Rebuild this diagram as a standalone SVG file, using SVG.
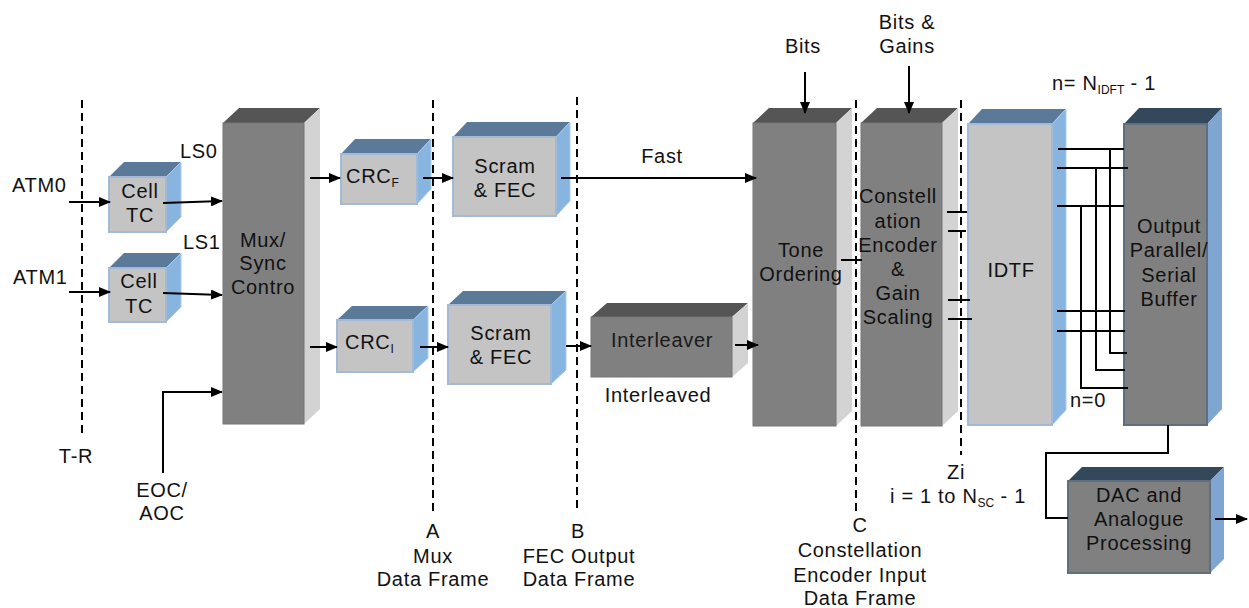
<svg xmlns="http://www.w3.org/2000/svg" width="1249" height="608" viewBox="0 0 1249 608">
<style>
text{font-family:"Liberation Sans",Arial,sans-serif;font-size:20px;fill:#111;letter-spacing:0.7px}
.c{text-anchor:middle}
.sub{font-size:12px;letter-spacing:0}
.lf{fill:#c4c4c4;stroke:#a3bad6;stroke-width:2}
.lt{fill:#5b7a9a}
.ls{fill:#88b4e0;stroke:#a9cbee;stroke-width:1}
.gf{fill:#808080;stroke:#777;stroke-width:1}
.gt{fill:#555555}
.gs{fill:#d3d3d3}
.nf{fill:#808080;stroke:#5f6f80;stroke-width:2}
.nt{fill:#34485c}
.ns{fill:#7ea6d0}
.dash{stroke:#000;stroke-width:2;stroke-dasharray:8,5;fill:none}
.ln{stroke:#000;stroke-width:2;fill:none}
.ar{stroke:#000;stroke-width:2;fill:none;marker-end:url(#ah)}
</style>
<defs>
<marker id="ah" viewBox="0 0 12 10" refX="11" refY="5" markerWidth="12" markerHeight="10" markerUnits="userSpaceOnUse" orient="auto">
<path d="M0,0 L12,5 L0,10 Z" fill="#000"/>
</marker>
<clipPath id="clipCell2"><rect x="109" y="268" width="57" height="53"/></clipPath>
</defs>

<g id="guides">
<line class="dash" x1="82" y1="100" x2="82" y2="438"/>
<line class="dash" x1="433" y1="100" x2="433" y2="513"/>
<line class="dash" x1="577" y1="97" x2="577" y2="513"/>
<line class="dash" x1="856" y1="100" x2="856" y2="512"/>
<line class="dash" x1="961" y1="100" x2="961" y2="455"/>
</g>

<g id="cell1">
<polygon class="lt" points="109,177 124,162 181,162 166,177"/>
<polygon class="ls" points="166,177 181,162 181,217 166,232"/>
<rect class="lf" x="109" y="177" width="57" height="55"/>
<text class="c" x="140" y="198">Cell</text>
<text class="c" x="140" y="222">TC</text>
</g>

<g id="cell2">
<polygon class="lt" points="109,268 124,253 181,253 166,268"/>
<polygon class="ls" points="166,268 181,253 181,307 166,322"/>
<rect class="lf" x="109" y="268" width="57" height="54"/>
<g clip-path="url(#clipCell2)">
<text class="c" x="139" y="288">Cell</text>
<text class="c" x="139" y="313">TC</text>
</g>
</g>

<g id="mux">
<polygon class="gt" points="223,123 239,108 320,108 304,123"/>
<polygon class="gs" points="304,123 320,108 320,409 304,424"/>
<rect class="gf" x="223" y="123" width="81" height="301"/>
<text class="c" x="263" y="247">Mux/</text>
<text class="c" x="263" y="270">Sync</text>
<text class="c" x="263" y="294">Contro</text>
</g>

<g id="crcf">
<polygon class="lt" points="341,154 355,139 431,139 417,154"/>
<polygon class="ls" points="417,154 431,139 431,189 417,204"/>
<rect class="lf" x="341" y="154" width="76" height="50"/>
<text x="346" y="183">CRC<tspan class="sub" dy="4">F</tspan></text>
</g>

<g id="crci">
<polygon class="lt" points="337,320 352,306 428,306 413,320"/>
<polygon class="ls" points="413,320 428,306 428,358 413,372"/>
<rect class="lf" x="337" y="320" width="76" height="52"/>
<text x="345" y="349">CRC<tspan class="sub" dy="4">I</tspan></text>
</g>

<g id="scram1">
<polygon class="lt" points="453,137 467,122 570,122 556,137"/>
<polygon class="ls" points="556,137 570,122 570,201 556,216"/>
<rect class="lf" x="453" y="137" width="103" height="79"/>
<text class="c" x="505" y="173">Scram</text>
<text class="c" x="505" y="197">&amp; FEC</text>
</g>

<g id="scram2">
<polygon class="lt" points="448,305 463,291 566,291 551,305"/>
<polygon class="ls" points="551,305 566,291 566,370 551,384"/>
<rect class="lf" x="448" y="305" width="103" height="79"/>
<text class="c" x="501" y="340">Scram</text>
<text class="c" x="501" y="364">&amp; FEC</text>
</g>

<g id="interleaver">
<polygon class="gt" points="591,317 607,303 748,303 732,317"/>
<polygon class="gs" points="732,317 748,303 748,363 732,377"/>
<rect class="gf" x="591" y="317" width="141" height="60"/>
<text class="c" x="662" y="347" style="fill:#1a1a1a">Interleaver</text>
</g>

<g id="tone">
<polygon class="gt" points="753,123 769,108 852,108 836,123"/>
<polygon class="gs" points="836,123 852,108 852,411 836,426"/>
<rect class="gf" x="753" y="123" width="83" height="303"/>
<text class="c" x="801" y="257">Tone</text>
<text class="c" x="801" y="281">Ordering</text>
</g>

<g id="constellation">
<polygon class="gt" points="861,123 877,108 958,108 942,123"/>
<polygon class="gs" points="942,123 958,108 958,411 942,426"/>
<rect class="gf" x="861" y="123" width="81" height="303"/>
<text class="c" x="898" y="203">Constell</text>
<text class="c" x="898" y="228">ation</text>
<text class="c" x="898" y="252">Encoder</text>
<text class="c" x="898" y="276">&amp;</text>
<text class="c" x="898" y="300">Gain</text>
<text class="c" x="898" y="324">Scaling</text>
</g>

<g id="idtf">
<polygon class="lt" points="968,124 982,109 1066,109 1052,124"/>
<polygon class="ls" points="1052,124 1066,109 1066,410 1052,425"/>
<rect class="lf" x="968" y="124" width="84" height="301"/>
<text class="c" x="1011" y="277">IDTF</text>
</g>

<g id="output">
<polygon class="nt" points="1124,124 1139,108 1222,108 1207,124"/>
<polygon class="ns" points="1207,124 1222,108 1222,409 1207,425"/>
<rect class="nf" x="1124" y="124" width="83" height="301"/>
<text class="c" x="1169" y="233">Output</text>
<text class="c" x="1169" y="257">Parallel/</text>
<text class="c" x="1169" y="282">Serial</text>
<text class="c" x="1169" y="306">Buffer</text>
</g>

<g id="dac">
<polygon class="nt" points="1068,481 1082,467 1224,467 1210,481"/>
<polygon class="ns" points="1210,481 1224,467 1224,559 1210,573"/>
<rect class="nf" x="1068" y="481" width="142" height="92"/>
<text class="c" x="1139" y="502">DAC and</text>
<text class="c" x="1139" y="526">Analogue</text>
<text class="c" x="1139" y="550">Processing</text>
</g>

<g id="connectors">
<line class="ar" x1="69" y1="202" x2="110" y2="202"/>
<line class="ar" x1="69" y1="292" x2="110" y2="292"/>
<line class="ar" x1="163" y1="203" x2="222" y2="201"/>
<line class="ar" x1="163" y1="293" x2="222" y2="295"/>
<polyline class="ar" points="163,473 163,392 222,392"/>
<line class="ar" x1="310" y1="178" x2="340" y2="178"/>
<line class="ar" x1="310" y1="347" x2="337" y2="347"/>
<line class="ar" x1="423" y1="178" x2="453" y2="178"/>
<line class="ar" x1="420" y1="347" x2="448" y2="347"/>
<line class="ar" x1="561" y1="178" x2="756" y2="178"/>
<line class="ar" x1="566" y1="346" x2="591" y2="346"/>
<line class="ar" x1="735" y1="345" x2="758" y2="345"/>
<line class="ar" x1="805" y1="72" x2="805" y2="113"/>
<line class="ar" x1="909" y1="66" x2="909" y2="113"/>
<line class="ar" x1="1215" y1="519" x2="1247" y2="519"/>
<line class="ln" x1="841" y1="260" x2="862" y2="260"/>
<line class="ln" x1="947" y1="212" x2="967" y2="212"/>
<line class="ln" x1="948" y1="231" x2="966" y2="231"/>
<line class="ln" x1="948" y1="300" x2="970" y2="300"/>
<line class="ln" x1="948" y1="319" x2="972" y2="319"/>
<line class="ln" x1="1058" y1="149" x2="1124" y2="149"/>
<line class="ln" x1="1057" y1="168" x2="1128" y2="168"/>
<line class="ln" x1="1057" y1="206" x2="1124" y2="206"/>
<line class="ln" x1="1057" y1="311" x2="1125" y2="311"/>
<line class="ln" x1="1057" y1="331" x2="1125" y2="331"/>
<polyline class="ln" points="1110,149 1110,353 1127,353"/>
<polyline class="ln" points="1096,168 1096,370 1125,370"/>
<polyline class="ln" points="1081,206 1081,388 1128,388"/>
<polyline class="ln" points="1168,425 1168,453 1046,453 1046,518 1068,518"/>
</g>

<g id="labels">
<text x="12" y="192">ATM0</text>
<text x="13" y="284">ATM1</text>
<text x="180" y="158">LS0</text>
<text x="183" y="249">LS1</text>
<text class="c" x="76" y="463">T-R</text>
<text class="c" x="162" y="497">EOC/</text>
<text class="c" x="162" y="520">AOC</text>
<text class="c" x="662" y="163">Fast</text>
<text class="c" x="658" y="402">Interleaved</text>
<text class="c" x="803" y="53">Bits</text>
<text class="c" x="907" y="29">Bits &amp;</text>
<text class="c" x="907" y="53">Gains</text>
<text x="1052" y="90">n= N<tspan class="sub" dy="4">IDFT</tspan><tspan dy="-4"> - 1</tspan></text>
<text x="1070" y="407">n=0</text>
<text class="c" x="956" y="479">Zi</text>
<text x="890" y="503">i = 1 to N<tspan class="sub" dy="4">SC</tspan><tspan dy="-4"> - 1</tspan></text>
<text class="c" x="860" y="532">C</text>
<text class="c" x="860" y="557">Constellation</text>
<text class="c" x="860" y="582">Encoder Input</text>
<text class="c" x="860" y="605">Data Frame</text>
<text class="c" x="433" y="538">A</text>
<text class="c" x="433" y="563">Mux</text>
<text class="c" x="433" y="586">Data Frame</text>
<text class="c" x="578" y="538">B</text>
<text class="c" x="579" y="563">FEC Output</text>
<text class="c" x="579" y="586">Data Frame</text>
</g>
</svg>
